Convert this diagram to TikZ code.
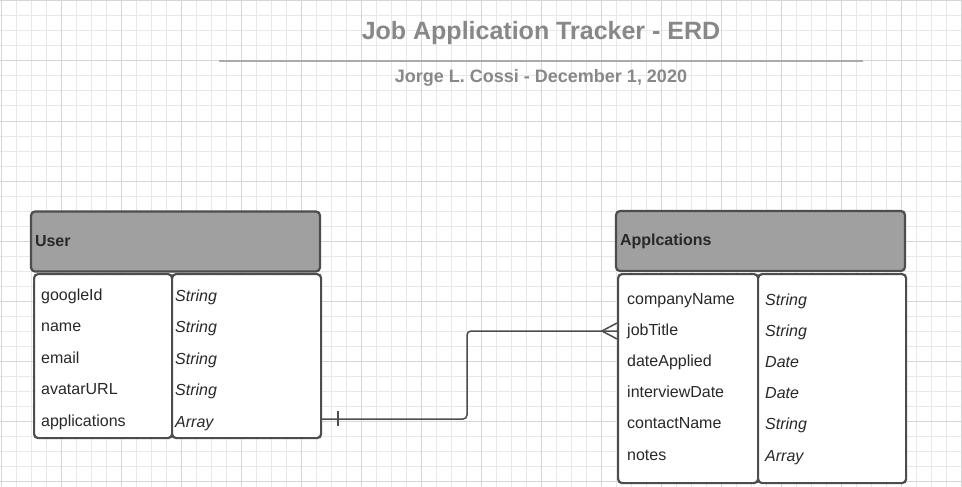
\documentclass[tikz,border=0pt]{standalone}
\usepackage{fontspec}
\setmainfont{Liberation Sans}
\usepackage{tikz}
\usetikzlibrary{positioning}

\definecolor{titlegray}{RGB}{136,136,136}
\definecolor{rulegray}{RGB}{170,170,170}
\definecolor{edgegray}{RGB}{77,77,77}
\definecolor{headgray}{RGB}{160,160,160}
\definecolor{textgray}{RGB}{40,40,40}
\definecolor{minorgrid}{RGB}{232,232,232}
\definecolor{majorgrid}{RGB}{214,214,214}

\begin{document}
\begin{tikzpicture}[x=1pt,y=-1pt,
	hdr/.style={draw=edgegray,line width=2.2pt,fill=headgray,rounded corners=4pt,
		inner xsep=4pt,text width=281pt,align=left,minimum height=60pt,
		font=\fontsize{16}{18}\selectfont\bfseries,text=textgray},
	cell/.style={draw=edgegray,line width=2.2pt,fill=white,rounded corners=4pt,
		anchor=north west,inner sep=0pt},
	attr/.style={anchor=base west,inner sep=0pt,font=\fontsize{16}{18}\selectfont,text=textgray},
	typ/.style={attr,font=\fontsize{16}{18}\selectfont\itshape},
	link/.style={draw=edgegray,line width=1.5pt}]
	\useasboundingbox (0,0) rectangle (962,487);
	\fill[white] (0,0) rectangle (962,487);

	% grid
	\foreach \k in {0,...,64}
		\draw[minorgrid,line width=1pt] ({1+15*\k},0) -- ({1+15*\k},487);
	\foreach \k in {0,...,32}
		\draw[minorgrid,line width=1pt] (0,{1+15*\k}) -- (962,{1+15*\k});
	\foreach \k in {0,...,16}
		\draw[majorgrid,line width=1pt] ({1+60*\k},0) -- ({1+60*\k},487);
	\foreach \k in {0,...,8}
		\draw[majorgrid,line width=1pt] (0,{1+60*\k}) -- (962,{1+60*\k});

	% title
	\node[font=\fontsize{25}{28}\selectfont\bfseries,text=titlegray] (title) at (541,33) {Job Application Tracker - ERD};
	\draw[rulegray,line width=2pt] (219,61.5) -- (863,61.5);
	\node[font=\fontsize{18}{20}\selectfont\bfseries,text=titlegray] (author) at (541,78) {Jorge L. Cossi - December 1, 2020};

	% User
	\node[hdr] (uhead) at (175.5,241.5) {User};
	\node[cell,minimum width=138pt,minimum height=164pt] (ubody) at (33,273) {};
	\node[cell,minimum width=149pt,minimum height=164pt] (utypes) at (171,273) {};
	\foreach \t [count=\i] in {googleId,name,email,avatarURL,applications}
		\node[attr] (uattr\i) at (41,{300+31.5*(\i-1)}) {\t};
	\foreach \t [count=\i] in {String,String,String,String,Array}
		\node[typ] (utyp\i) at (175,{301+31.5*(\i-1)}) {\t};

	% Applications
	\node[hdr] (ahead) at (760.5,241) {Applcations};
	\node[cell,minimum width=140pt,minimum height=209pt] (abody) at (617,273) {};
	\node[cell,minimum width=148pt,minimum height=209pt] (atypes) at (757,273) {};
	\foreach \t [count=\i] in {companyName,jobTitle,dateApplied,interviewDate,contactName,notes}
		\node[attr] (aattr\i) at (627,{304+31.2*(\i-1)}) {\t};
	\foreach \t [count=\i] in {String,String,Date,Date,String,Array}
		\node[typ] (atyp\i) at (765,{305+31.2*(\i-1)}) {\t};

	% one user -- many applications
	\coordinate (ufk) at (utypes.east |- 0,419);
	\coordinate (afk) at (abody.west |- 0,331);
	\coordinate (bend) at (467,375);
	\draw[link,rounded corners=4pt] (ufk) -| (bend) |- (afk);
	\draw[link] (ufk) ++(16,-8) -- ++(0,15);
	\draw[link] (afk) ++(0,-8) -- ++(-15,8) -- ++(15,8);
\end{tikzpicture}
\end{document}
